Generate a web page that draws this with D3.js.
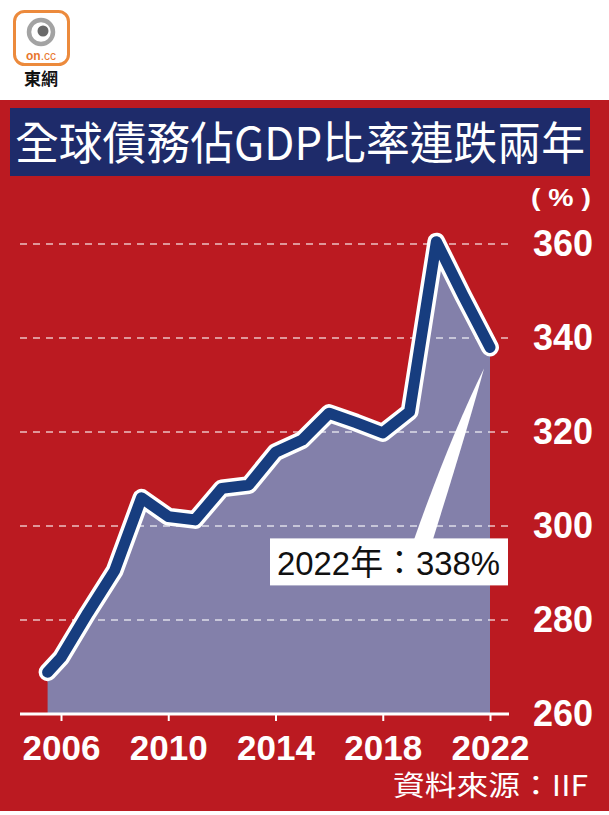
<!DOCTYPE html>
<html><head><meta charset="utf-8">
<script src="https://cdn.jsdelivr.net/npm/d3@7"></script>
<style>html,body{margin:0;padding:0;background:#fff;} svg{display:block}</style>
</head><body>
<script>
// ---- data ----
const years = [2005.5, 2006, 2007, 2008, 2009, 2010, 2011, 2012, 2013, 2014, 2015, 2016, 2017, 2018, 2019, 2020, 2021, 2022];
const debtRatio = [268.9, 272, 281.5, 290.5, 306, 302, 301.3, 308, 308.7, 315.7, 318.3, 324, 322, 319.8, 324.3, 360.5, 349, 338];
const xTickYears = [2006, 2010, 2014, 2018, 2022];
const yTicks = [260, 280, 300, 320, 340, 360];
const titleText = "全球債務佔GDP比率連跌兩年";
const unitText = "( % )";
const sourceText = "資料來源：IIF";
const calloutText = "2022年：338%";
const logoText = "東網";

const W = 609, H = 815;
const RED = "#bb1a21", NAVY_T = "#1e2b6a", NAVY_L = "#173d7f", AREA = "#8380aa";
const CJK = "'Noto Sans CJK TC','Noto Sans CJK SC',sans-serif";
const LAT = "'Liberation Sans',Arial,'Noto Sans CJK TC',sans-serif";

const svg = d3.select("body").append("svg").attr("width", W).attr("height", H);
svg.append("rect").attr("width", W).attr("height", H).attr("fill", "#fff");
svg.append("rect").attr("x", 0).attr("y", 100).attr("width", W).attr("height", 711).attr("fill", RED);

// ---- logo ----
const logo = svg.append("g");
logo.append("rect").attr("x", 14.5).attr("y", 11.5).attr("width", 54).attr("height", 53).attr("rx", 10)
  .attr("fill", "#fff").attr("stroke", "#ec8a3c").attr("stroke-width", 3);
logo.append("circle").attr("cx", 41).attr("cy", 32).attr("r", 12).attr("fill", "none")
  .attr("stroke", "#a3a3a3").attr("stroke-width", 4.5);
logo.append("circle").attr("cx", 43).attr("cy", 31).attr("r", 5.5).attr("fill", "#6a6a6a");
const lt = logo.append("text").attr("x", 41).attr("y", 59.5).attr("text-anchor", "middle")
  .attr("font-family", LAT).attr("font-size", 12);
lt.append("tspan").attr("fill", "#e8762c").attr("font-weight", "bold").text("on");
lt.append("tspan").attr("fill", "#e8762c").text(".cc");
logo.append("text").attr("x", 41).attr("y", 85).attr("text-anchor", "middle")
  .attr("font-family", CJK).attr("font-weight", "bold").attr("font-size", 17).attr("fill", "#111").text(logoText);

// ---- title ----
svg.append("rect").attr("x", 10).attr("y", 108).attr("width", 580).attr("height", 68).attr("fill", NAVY_T);
svg.append("text").attr("x", 15).attr("y", 160)
  .attr("font-family", CJK).attr("font-size", 45).attr("fill", "#fff")
  .attr("textLength", 570).attr("lengthAdjust", "spacingAndGlyphs").text(titleText);

// ---- scales ----
const x = d3.scaleLinear().domain([2006, 2022]).range([61, 490]);
const y = d3.scaleLinear().domain([260, 360]).range([714, 244]);
const data = years.map((yr, i) => ({ yr, v: debtRatio[i] }));

// area
svg.append("path").datum(data)
  .attr("d", d3.area().x(d => x(d.yr)).y0(y(260)).y1(d => y(d.v)))
  .attr("fill", AREA);

// gridlines
svg.append("g").selectAll("line").data(yTicks.filter(v => v > 260)).join("line")
  .attr("x1", 20).attr("x2", 510).attr("y1", d => y(d)).attr("y2", d => y(d))
  .attr("stroke", "rgba(255,255,255,0.55)").attr("stroke-width", 2).attr("stroke-dasharray", "7 6");

// line
const lineGen = d3.line().x(d => x(d.yr)).y(d => y(d.v));
svg.append("path").datum(data).attr("d", lineGen).attr("fill", "none")
  .attr("stroke", "#fff").attr("stroke-width", 18).attr("stroke-linejoin", "round").attr("stroke-linecap", "round");
svg.append("path").datum(data).attr("d", lineGen).attr("fill", "none")
  .attr("stroke", NAVY_L).attr("stroke-width", 11).attr("stroke-linejoin", "round").attr("stroke-linecap", "round");

// x axis
svg.append("line").attr("x1", 20).attr("x2", 509).attr("y1", y(260)).attr("y2", y(260))
  .attr("stroke", "#fff").attr("stroke-width", 3);
const xa = svg.append("g").attr("transform", `translate(0,${y(260)})`)
  .call(d3.axisBottom(x).tickValues(xTickYears).tickSize(7).tickFormat(d3.format("d")));
xa.select(".domain").remove();
xa.selectAll(".tick line").attr("stroke", "#fff").attr("stroke-width", 2);
xa.selectAll(".tick text").attr("y", 46).attr("dy", 0).attr("fill", "#fff")
  .attr("font-family", LAT).attr("font-weight", "bold").attr("font-size", 35);

// y axis labels
const ya = svg.append("g").attr("transform", "translate(593,0)")
  .call(d3.axisRight(y).tickValues(yTicks).tickSize(0).tickFormat(d3.format("d")));
ya.select(".domain").remove();
ya.selectAll(".tick text").attr("x", 0).attr("dy", "0.33em").attr("text-anchor", "end").attr("fill", "#fff")
  .attr("font-family", LAT).attr("font-weight", "bold").attr("font-size", 36);

svg.append("text").attr("x", 591).attr("y", 206).attr("text-anchor", "end")
  .attr("font-family", LAT).attr("font-weight", "bold").attr("font-size", 24).attr("fill", "#fff")
  .attr("textLength", 60).attr("lengthAdjust", "spacingAndGlyphs").text(unitText);

// ---- callout ----
const last = data[data.length - 1];
const ex = x(last.yr), ey = y(last.v);
svg.append("path")
  .attr("d", `M${ex - 6},${ey + 21} Q${ex - 22},${ey + 80} ${ex - 58},${ey + 195} L${ex - 77},${ey + 195} Q${ex - 40},${ey + 90} ${ex - 6},${ey + 21} Z`)
  .attr("fill", "#fff");
svg.append("rect").attr("x", ex - 220).attr("y", ey + 191).attr("width", 238).attr("height", 47).attr("fill", "#fff");
svg.append("text").attr("x", ex - 213).attr("y", ey + 228)
  .attr("font-family", LAT).attr("font-size", 34).attr("fill", "#111")
  .attr("textLength", 223).attr("lengthAdjust", "spacingAndGlyphs").text(calloutText);

// ---- source ----
svg.append("text").attr("x", 588).attr("y", 796).attr("text-anchor", "end")
  .attr("font-family", CJK).attr("font-size", 28).attr("fill", "#fff")
  .attr("textLength", 195).attr("lengthAdjust", "spacingAndGlyphs").text(sourceText);
</script>
</body></html>
